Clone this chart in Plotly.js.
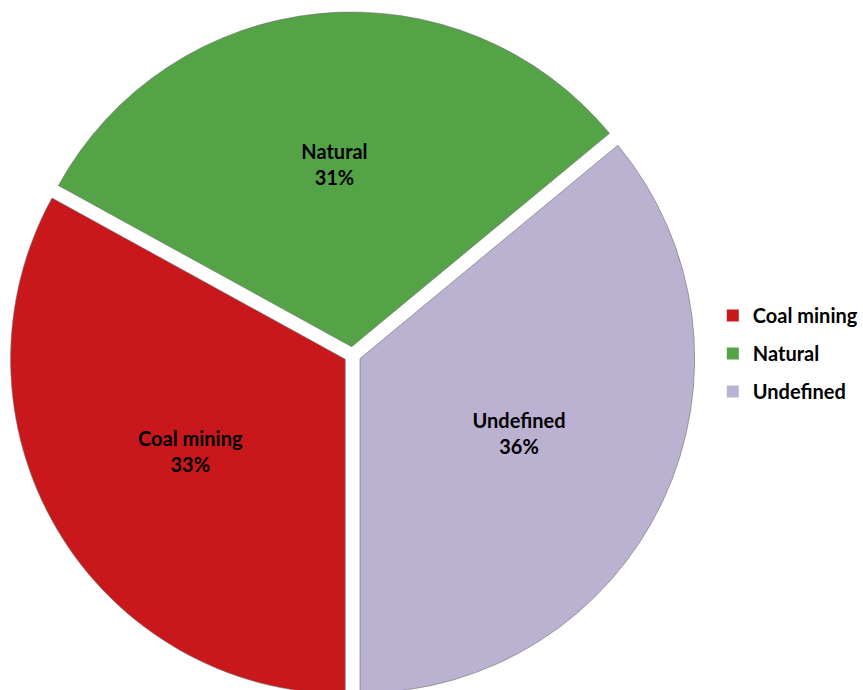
<!DOCTYPE html>
<html>
<head>
<meta charset="utf-8">
<script src="https://cdn.plot.ly/plotly-3.0.1.min.js"></script>
<style>
  html, body { margin: 0; padding: 0; background: #fff; }
  #wrap { width: 863px; height: 690px; overflow: hidden; position: relative; }
  #chart { width: 863px; height: 698px; }
</style>
</head>
<body>
<div id="wrap"><div id="chart"></div></div>
<script>
// ---- data ----
const categories = ["Coal mining", "Natural", "Undefined"];
const shares = [33, 31, 36];
const sliceColors = ["#C9181C", "#55A347", "#BBB1D1"];

const FONT = "Lato, 'Open Sans', sans-serif";

const pie = {
  type: "pie",
  labels: categories,
  values: shares,
  sort: false,
  direction: "clockwise",
  rotation: 180,
  pull: 0.025,
  marker: { colors: sliceColors, line: { color: "rgba(110,110,110,0.8)", width: 0.75 } },
  textinfo: "label+percent",
  textposition: "inside",
  insidetextorientation: "horizontal",
  textfont: { family: FONT, size: 20, color: "#000", weight: "bold" },
  hoverinfo: "label+percent",
  showlegend: false,
  domain: { x: [0, 714 / 863], y: [0, 1] }
};

// legend entries, one per category (empty bars, legend only)
const legendTraces = categories.map((c, i) => ({
  type: "bar",
  x: [null],
  y: [null],
  name: c,
  legendgroup: c,
  marker: { color: sliceColors[i] },
  showlegend: true,
  hoverinfo: "skip"
}));

const layout = {
  width: 863,
  height: 698,
  margin: { l: 0, r: 0, t: 12, b: 0 },
  paper_bgcolor: "#fff",
  plot_bgcolor: "#fff",
  showlegend: true,
  xaxis: { visible: false },
  yaxis: { visible: false },
  legend: {
    x: 722 / 863,
    xanchor: "left",
    y: 1 - (296 - 12) / 686,
    yanchor: "top",
    traceorder: "grouped",
    tracegroupgap: 9,
    font: { family: FONT, size: 20, color: "#000", weight: "bold" },
    bgcolor: "rgba(0,0,0,0)"
  }
};

Plotly.newPlot("chart", [pie].concat(legendTraces), layout, { displayModeBar: false });
</script>
</body>
</html>
